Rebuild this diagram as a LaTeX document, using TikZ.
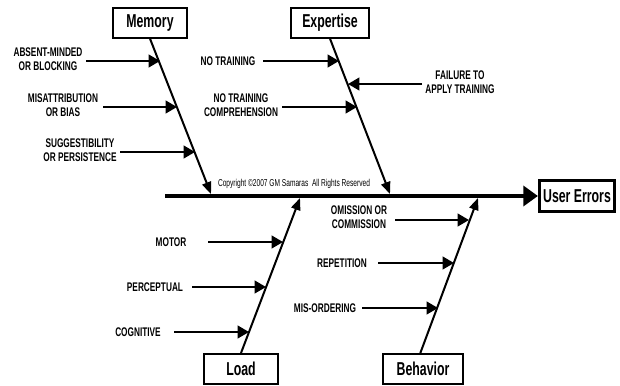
\documentclass[tikz,border=0pt]{standalone}
\usepackage{fontspec}
\setmainfont[FakeStretch=0.66]{Liberation Sans}
\usetikzlibrary{arrows.meta}

\tikzset{
  cause/.style={draw, line width=1.5pt, minimum width=56pt, minimum height=22pt,
    inner sep=0pt, font=\bfseries\fontsize{14}{16}\selectfont},
  item/.style={align=center, inner sep=0pt, font=\bfseries\fontsize{9.4}{10.5}\selectfont},
  bone/.style={line width=1.5pt, -{Triangle[length=9pt,width=7pt]}},
  twig/.style={line width=1.5pt, -{Triangle[length=8.5pt,width=9.5pt]}},
}

\begin{document}
\begin{tikzpicture}[x=0.75pt, y=-0.75pt]
    \useasboundingbox (0,0) rectangle (620,385);

    % Effect box and spine
    \node[cause, line width=2.6pt, minimum width=56pt, minimum height=23pt] (effect) at (577,196) {User Errors};
    \coordinate (tail) at (165,196);
    \draw[line width=3pt, -{Triangle[length=11pt,width=15pt]}] (tail) -- (effect);
    \node[font=\fontsize{7.5}{9}\selectfont, inner sep=0pt] (copy) at (294,184)
        {Copyright \textcopyright2007 GM Samaras\ \ All Rights Reserved};

    % Cause boxes
    \node[cause] (memory) at (150,23) {Memory};
    \node[cause, minimum width=58pt] (expertise) at (330,23) {Expertise};
    \node[cause, minimum height=22.5pt] (load) at (241,369) {Load};
    \node[cause, minimum width=60pt, minimum height=22.5pt] (behavior) at (423,369) {Behavior};

    % Bones
    \coordinate (mem0) at (211,194);
    \coordinate (exp0) at (390,194);
    \coordinate (load0) at (300,198);
    \coordinate (beh0) at (478,198);
    \draw[bone] (memory.south) -- (mem0);
    \draw[bone] (expertise.south) -- (exp0);
    \draw[bone] (load.north) -- (load0);
    \draw[bone] ([xshift=-2pt]behavior.north) -- (beh0);

    % Memory
    \node[item] (absent) at (48,59) {ABSENT-MINDED\\OR BLOCKING};
    \node[item] (misattr) at (63,105) {MISATTRIBUTION\\OR BIAS};
    \node[item] (suggest) at (80,150) {SUGGESTIBILITY\\OR PERSISTENCE};
    \coordinate (m1) at (86,61);  \coordinate (m1t) at (160,61);
    \coordinate (m2) at (103,107); \coordinate (m2t) at (177,107);
    \coordinate (m3) at (120,152); \coordinate (m3t) at (195,152);
    \draw[twig] (m1) -- (m1t);
    \draw[twig] (m2) -- (m2t);
    \draw[twig] (m3) -- (m3t);

    % Expertise
    \node[item] (notrain) at (228,61) {NO TRAINING};
    \node[item] (compre) at (241,105) {NO TRAINING\\COMPREHENSION};
    \node[item] (failure) at (460,82) {FAILURE TO\\APPLY TRAINING};
    \coordinate (e1) at (263,61);  \coordinate (e1t) at (339,61);
    \coordinate (e2) at (282,107); \coordinate (e2t) at (357,107);
    \coordinate (e3) at (422,84);  \coordinate (e3t) at (348,84);
    \draw[twig] (e1) -- (e1t);
    \draw[twig] (e2) -- (e2t);
    \draw[twig] (e3) -- (e3t);

    % Load
    \node[item] (motor) at (171,242) {MOTOR};
    \node[item] (percep) at (155,287) {PERCEPTUAL};
    \node[item] (cognit) at (138,332) {COGNITIVE};
    \coordinate (l1) at (208,242); \coordinate (l1t) at (283,242);
    \coordinate (l2) at (192,287); \coordinate (l2t) at (266,287);
    \coordinate (l3) at (174,332); \coordinate (l3t) at (249,332);
    \draw[twig] (l1) -- (l1t);
    \draw[twig] (l2) -- (l2t);
    \draw[twig] (l3) -- (l3t);

    % Behavior
    \node[item] (omiss) at (359,217) {OMISSION OR\\COMMISSION};
    \node[item] (repet) at (342,263) {REPETITION};
    \node[item] (misord) at (325,308) {MIS-ORDERING};
    \coordinate (b1) at (395,220); \coordinate (b1t) at (469,220);
    \coordinate (b2) at (378,263); \coordinate (b2t) at (454,263);
    \coordinate (b3) at (362,308); \coordinate (b3t) at (438,308);
    \draw[twig] (b1) -- (b1t);
    \draw[twig] (b2) -- (b2t);
    \draw[twig] (b3) -- (b3t);
\end{tikzpicture}
\end{document}
